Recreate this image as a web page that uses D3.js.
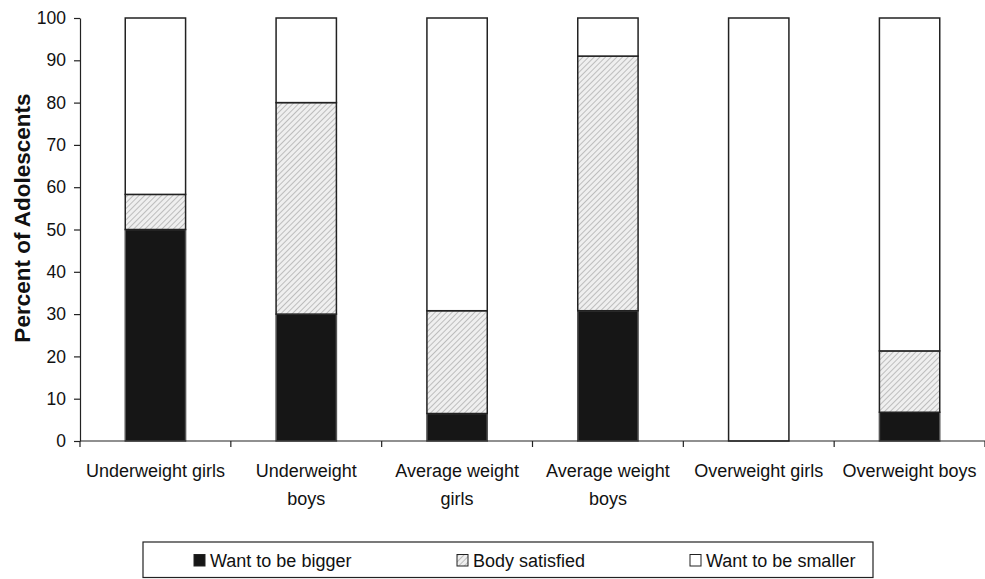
<!DOCTYPE html>
<html><head><meta charset="utf-8">
<script src="https://cdn.jsdelivr.net/npm/d3@7"></script>
<style>body{margin:0;background:#fff}svg{display:block}text{font-family:"Liberation Sans",Arial,sans-serif;fill:#111}</style>
</head><body><svg id="c" width="985" height="579"></svg>
<script>
const categories = [["Underweight girls"],["Underweight","boys"],["Average weight","girls"],["Average weight","boys"],["Overweight girls"],["Overweight boys"]];
const seriesNames = ["Want to be bigger","Body satisfied","Want to be smaller"];
const wantBigger = [50, 30, 6.5, 30.8, 0, 6.8];
const bodySatisfied = [8.3, 50, 24.3, 60.2, 0, 14.5];
const wantSmaller = [41.7, 20, 69.2, 9, 100, 78.7];
const yTicks = [0,10,20,30,40,50,60,70,80,90,100];

(function(){
const svg = d3.select("#c");
const defs = svg.append("defs");
const pat = defs.append("pattern").attr("id","hatch").attr("patternUnits","userSpaceOnUse")
  .attr("width",4).attr("height",4).attr("patternTransform","rotate(45)");
pat.append("rect").attr("width",4).attr("height",4).attr("fill","#efefef");
pat.append("line").attr("x1",0).attr("y1",0).attr("x2",0).attr("y2",4).attr("stroke","#bdbdbd").attr("stroke-width",2);

const pl=80, pr=985, pt=18, pb=441;
const keys = categories.map((c,i)=>i);
const x = d3.scaleBand().domain(keys).range([pl,pr]).paddingInner(0.6).paddingOuter(0.3);
const y = d3.scaleLinear().domain([0,100]).range([pb,pt]);

const rows = keys.map(i=>({i, bigger:wantBigger[i], satisfied:bodySatisfied[i], smaller:wantSmaller[i]}));
const stack = d3.stack().keys(["bigger","satisfied","smaller"])(rows);
const fills = {bigger:"#161616", satisfied:"url(#hatch)", smaller:"#ffffff"};
const strokes = {bigger:"#555", satisfied:"#222", smaller:"#222"};

stack.forEach(layer=>{
  svg.append("g").selectAll("rect").data(layer.filter(d=>d[1]-d[0]>0)).join("rect")
    .attr("x",d=>x(d.data.i)).attr("width",x.bandwidth())
    .attr("y",d=>y(d[1])).attr("height",d=>y(d[0])-y(d[1]))
    .attr("fill",fills[layer.key]).attr("stroke",strokes[layer.key]).attr("stroke-width",1.5);
});

const ya = svg.append("g").attr("transform",`translate(${pl},0)`)
  .call(d3.axisLeft(y).tickValues(yTicks).tickSize(6).tickPadding(8).tickSizeOuter(0));
ya.select(".domain").attr("stroke","#222").attr("stroke-width",1.2);
ya.selectAll(".tick line").attr("stroke","#222").attr("stroke-width",1.2);
ya.selectAll(".tick text").attr("font-size",17.5).attr("fill","#111").attr("font-family","Liberation Sans, Arial, sans-serif");

const xa = svg.append("g").attr("transform",`translate(0,${pb})`);
xa.append("line").attr("x1",pl).attr("x2",pr).attr("y1",0).attr("y2",0).attr("stroke","#222").attr("stroke-width",1.2);
const step = x.step();
const bounds = d3.range(categories.length+1).map(k=>pl+k*step);
xa.selectAll(".tk").data(bounds).join("line").attr("class","tk")
  .attr("x1",d=>d).attr("x2",d=>d).attr("y1",0).attr("y2",6).attr("stroke","#222").attr("stroke-width",1.2);
const lab = xa.selectAll(".lab").data(keys).join("text").attr("class","lab")
  .attr("text-anchor","middle").attr("font-size",18)
  .attr("transform",d=>`translate(${x(d)+x.bandwidth()/2},0)`);
lab.each(function(d){
  const t=d3.select(this);
  categories[d].forEach((s,j)=>t.append("tspan").attr("x",0).attr("y",36+j*28).text(s));
});

svg.append("text").attr("transform","translate(30,218) rotate(-90)").attr("text-anchor","middle")
  .attr("font-size",22.5).attr("font-weight","bold").text("Percent of Adolescents");

const lg = svg.append("g");
lg.append("rect").attr("x",143).attr("y",542).attr("width",730).attr("height",35.5).attr("fill","#fff").attr("stroke","#222").attr("stroke-width",1.2);
const lx = [194,457,690];
const lfill = ["#161616","url(#hatch)","#fff"];
seriesNames.forEach((n,k)=>{
  lg.append("rect").attr("x",lx[k]).attr("y",554.5).attr("width",11).attr("height",11.5)
    .attr("fill",lfill[k]).attr("stroke","#222").attr("stroke-width",1);
  lg.append("text").attr("x",lx[k]+16).attr("y",567).attr("font-size",18).text(n);
});
})();
</script></body></html>
